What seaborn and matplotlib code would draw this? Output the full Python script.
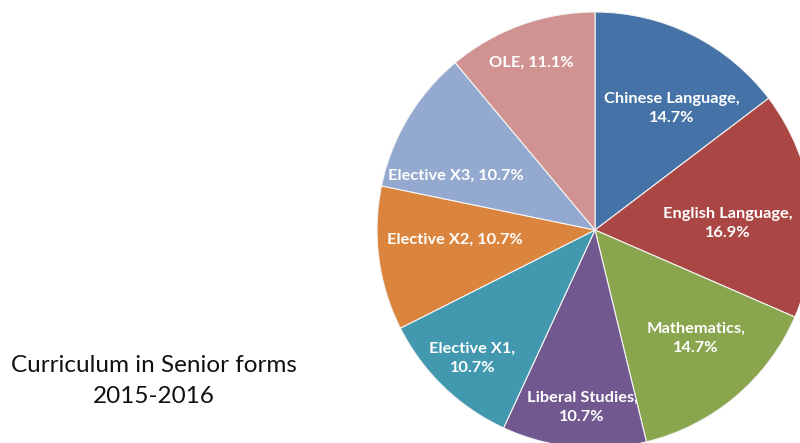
import numpy as np
import matplotlib
matplotlib.use("Agg")
import matplotlib.pyplot as plt
import seaborn as sns

# %% data
subjects = [
    "Chinese Language",
    "English Language",
    "Mathematics",
    "Liberal Studies",
    "Elective X1",
    "Elective X2",
    "Elective X3",
    "OLE",
]
shares = [14.7, 16.9, 14.7, 10.7, 10.7, 10.7, 10.7, 11.1]
# whether the label breaks after the comma
wrap = [True, True, True, True, True, False, False, False]

# %% style
sns.set_style("white")
plt.rcParams["font.family"] = ["Lato", "DejaVu Sans"]
colors = sns.color_palette(
    ["#4572A7", "#AA4643", "#89A54E", "#71588F",
     "#4198AF", "#DB843D", "#93A9CF", "#D19392"]
)
# label placement: distance from centre (fraction of radius) and
# angular nudge away from the wedge bisector (degrees)
label_r = [0.66, 0.61, 0.68, 0.815, 0.815, 0.645, 0.685, 0.82]
label_dang = [-6.0, -4.0, 3.0, 1.4, 0.3, -3.4, 9.7, 0.8]

fig = plt.figure(figsize=(8, 4.43), dpi=100)
ax = fig.add_axes([0, 0, 1, 1])

cx, cy, R = 595, 213, 218
wedges, _ = ax.pie(
    shares,
    colors=colors,
    startangle=90,
    counterclock=False,
    center=(cx, cy),
    radius=R,
    frame=True,
    wedgeprops=dict(edgecolor="#f4f4f4", linewidth=0.8),
)

# labels placed along each wedge's bisector
for w, name, val, brk, lr, da in zip(wedges, subjects, shares, wrap,
                                      label_r, label_dang):
    ang = np.deg2rad((w.theta1 + w.theta2) / 2 + da)
    x = cx + lr * R * np.cos(ang)
    y = cy + lr * R * np.sin(ang)
    sep = ",\n" if brk else ", "
    ax.text(x, y, f"{name}{sep}{val:.1f}%", ha="center", va="center",
            color="white", fontsize=11.8, fontweight="bold",
            linespacing=1.45)

ax.text(154, 62, "Curriculum in Senior forms\n2015-2016", ha="center",
        va="center", fontsize=17.5, color="#111111", linespacing=1.55)

ax.set_xlim(0, 800)
ax.set_ylim(0, 443)
ax.set_aspect("equal")
ax.axis("off")

plt.savefig("out.png", dpi=100)
